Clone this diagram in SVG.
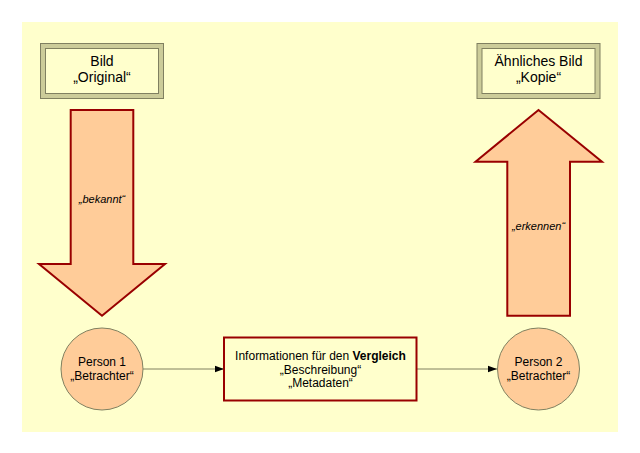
<svg xmlns="http://www.w3.org/2000/svg" width="640" height="453" viewBox="0 0 640 453">
<style>
text{font-family:"Liberation Sans",Arial,sans-serif;fill:#000;text-anchor:middle}
.big{font-size:14px}
.mid{font-size:12px}
.it{font-size:11px;font-style:italic}
.frame{fill:#cccc99;stroke:#808060;stroke-width:1}
.inner{fill:#ffffcc;stroke:#808060;stroke-width:1}
.arrow{fill:#ffcc99;stroke:#990000;stroke-width:2;stroke-linejoin:miter}
.circle{fill:#ffcc99;stroke:#808060;stroke-width:1}
.box{fill:#ffffcc;stroke:#990000;stroke-width:2}
.link{stroke:#808060;stroke-width:1;fill:none;marker-end:url(#tip)}
</style>
<defs><marker id="tip" markerUnits="userSpaceOnUse" markerWidth="10" markerHeight="8" refX="9.5" refY="4" orient="auto"><path d="M0,0.5L9.5,4L0,7.5Z" fill="#000"/></marker></defs>
<rect x="0" y="0" width="640" height="453" fill="#fff"/>
<rect x="22" y="22" width="596" height="410" fill="#ffffcc"/>
<g id="connectors">
<path class="link" d="M143,369H224"/>
<path class="link" d="M417,369H497"/>
</g>
<g id="bild">
<rect class="frame" x="40.5" y="43.5" width="123" height="55"/>
<rect class="inner" x="45.5" y="48.5" width="113" height="45"/>
<text class="big" x="102" y="66">Bild</text>
<text class="big" x="102" y="82">„Original“</text>
</g>
<g id="kopie">
<rect class="frame" x="477" y="43.5" width="123" height="55"/>
<rect class="inner" x="482" y="48.5" width="113" height="45"/>
<text class="big" x="538.5" y="66">Ähnliches Bild</text>
<text class="big" x="538.5" y="82">„Kopie“</text>
</g>
<g id="bekannt">
<path class="arrow" d="M70.7,110H133.3V264H165L102,315.7L39,264H70.7Z"/>
<text class="it" x="102" y="203">„bekannt“</text>
</g>
<g id="erkennen">
<path class="arrow" d="M507.3,315.7H570V161.7H602L538.5,110L475.5,161.7H507.3Z"/>
<text class="it" x="538.5" y="230">„erkennen“</text>
</g>
<g id="person1">
<circle class="circle" cx="102" cy="369" r="41"/>
<text class="mid" x="102" y="366">Person 1</text>
<text class="mid" x="102" y="380">„Betrachter“</text>
</g>
<g id="vergleich">
<rect class="box" x="224" y="337.5" width="192.500" height="63"/>
<text class="mid" x="320.500" y="360">Informationen für den <tspan font-weight="bold">Vergleich</tspan></text>
<text class="mid" x="320.500" y="373.500">„Beschreibung“</text>
<text class="mid" x="320.500" y="387">„Metadaten“</text>
</g>
<g id="person2">
<circle class="circle" cx="538.500" cy="369" r="41"/>
<text class="mid" x="538.500" y="366">Person 2</text>
<text class="mid" x="538.500" y="380">„Betrachter“</text>
</g>
</svg>
